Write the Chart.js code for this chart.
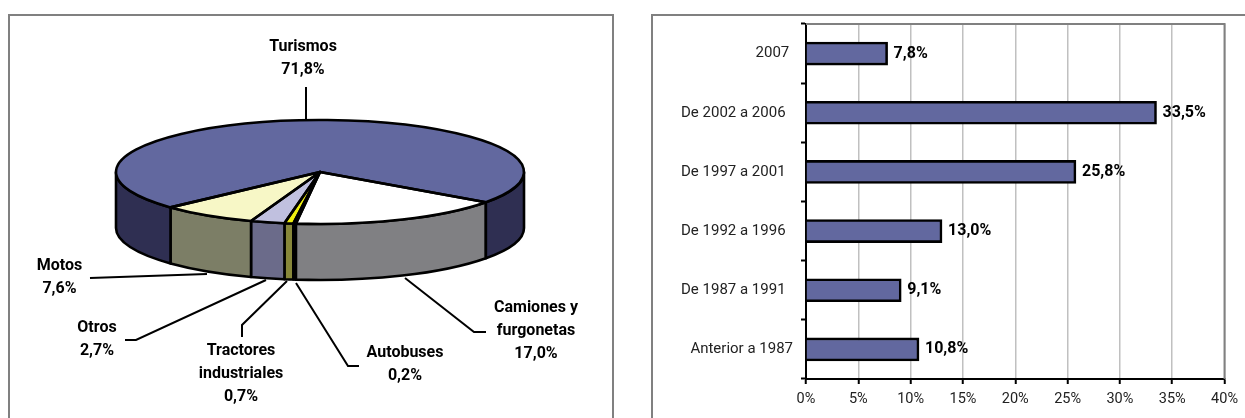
<!DOCTYPE html>
<html><head><meta charset="utf-8">
<style>
html,body{margin:0;padding:0;background:#fff;width:1245px;height:418px;overflow:hidden}
.panel{position:absolute;top:14px;height:420px;border:2px solid #808080;box-sizing:border-box;background:#fff}
canvas{position:absolute;top:0}
</style>
<script src="https://cdn.jsdelivr.net/npm/chart.js@4"></script>
</head><body>
<div class="panel" style="left:8px;width:606px"></div>
<div class="panel" style="left:651px;width:610px"></div>
<div style="position:absolute;left:0;top:0;width:640px;height:418px"><canvas id="pie"></canvas></div>
<div style="position:absolute;left:651px;top:0;width:594px;height:418px"><canvas id="bar"></canvas></div>
<script>
const pieCategories = ['Camiones y furgonetas','Autobuses','Tractores industriales','Otros','Motos','Turismos'];
const pieValues = [17.0,0.2,0.7,2.7,7.6,71.8];
const pieTopColors = ['#ffffff','#2f5f9f','#eeee10','#c0c0df','#f7f7c6','#62689f'];
const pieSideColors = ['#808083','#18304f','#87873a','#6b6b8a','#7c7e66','#2f2f52'];
const barCategories = ['2007 ','De 2002 a 2006  ','De 1997 a 2001  ','De 1992 a 1996  ','De 1987 a 1991  ','Anterior a 1987'];
const barValues = [7.8,33.5,25.8,13.0,9.1,10.8];
const barTicks = [0,5,10,15,20,25,30,35,40];

const fmt = v => v.toFixed(1).replace('.',',') + '%';
const FONT = 'Roboto, sans-serif';

// Screen ellipse of the tilted pie
const PCX = 320, PCY = 172, PRX = 204, PRY = 52, DEPTH = 56;

// label layout: [lines, centre x, first-line y]
const pieLabelLayout = [
  {lines:['Camiones y','furgonetas'], x:536, y:308},
  {lines:['Autobuses'], x:405, y:353},
  {lines:['Tractores','industriales'], x:241, y:351},
  {lines:['Otros'], x:97, y:328},
  {lines:['Motos'], x:59.5, y:266},
  {lines:['Turismos'], x:303, y:47}
];
const leaderPaths = [
  [[405,278],[474,332],[486,332]],
  [[296,283],[348,366],[359,366]],
  [[287,281],[242,325],[242,337]],
  [[266,280],[136,340],[125,340]],
  [[207,274],[90,278]],
  [[306,87],[306,120]]
];

const tiltPlugin = {
  id:'tilt',
  beforeDatasetsDraw(chart){
    const ctx = chart.ctx, arcs = chart.getDatasetMeta(0).data;
    ctx.save();
    ctx.lineWidth = 2.6; ctx.strokeStyle = '#000'; ctx.lineJoin = 'round';
    const TAU = Math.PI*2;
    arcs.forEach((arc,i)=>{
      const s = arc.startAngle, e = arc.endAngle;
      [[0,Math.PI],[TAU,TAU+Math.PI]].forEach(([lo,hi])=>{
        const a = Math.max(s,lo), b = Math.min(e,hi);
        if (b <= a) return;
        ctx.beginPath();
        ctx.ellipse(PCX,PCY,PRX,PRY,0,a,b);
        ctx.ellipse(PCX,PCY+DEPTH,PRX,PRY,0,b,a,true);
        ctx.closePath();
        ctx.fillStyle = pieSideColors[i];
        ctx.fill(); ctx.stroke();
      });
    });
    ctx.restore();
    const a0 = arcs[0];
    ctx.save();
    ctx.translate(PCX,PCY);
    ctx.scale(PRX/a0.outerRadius, PRY/a0.outerRadius);
    ctx.translate(-a0.x,-a0.y);
  },
  afterDatasetsDraw(chart){
    const ctx = chart.ctx, arcs = chart.getDatasetMeta(0).data;
    ctx.restore();
    ctx.save();
    ctx.lineWidth = 2.6; ctx.strokeStyle = '#000'; ctx.lineJoin = 'round';
    arcs.forEach(arc=>{
      ctx.beginPath();
      ctx.moveTo(PCX,PCY);
      ctx.ellipse(PCX,PCY,PRX,PRY,0,arc.startAngle,arc.endAngle);
      ctx.closePath();
      ctx.stroke();
    });
    // leader lines
    ctx.lineWidth = 2; ctx.lineJoin='miter';
    leaderPaths.forEach(p=>{
      ctx.beginPath();
      p.forEach(([x,y],i)=> i?ctx.lineTo(x,y):ctx.moveTo(x,y));
      ctx.stroke();
    });
    // labels
    ctx.fillStyle='#000'; ctx.textAlign='center'; ctx.textBaseline='middle';
    ctx.font = 'bold 16px '+FONT;
    pieLabelLayout.forEach((l,i)=>{
      const rows = l.lines.concat(fmt(pieValues[i]));
      rows.forEach((t,j)=>ctx.fillText(t,l.x,l.y+j*23));
    });
    ctx.restore();
  }
};

new Chart(document.getElementById('pie'),{
  type:'pie',
  data:{labels:pieCategories,datasets:[{data:pieValues,backgroundColor:pieTopColors,borderWidth:0}]},
  options:{
    responsive:true,maintainAspectRatio:false,animation:false,
    rotation:125.6,radius:204,
    plugins:{legend:{display:false},tooltip:{enabled:false}}
  },
  plugins:[tiltPlugin]
});

const barExtras = {
  id:'barExtras',
  afterDatasetsDraw(chart){
    const ctx=chart.ctx,{left,right,top,bottom}=chart.chartArea;
    ctx.save();
    ctx.fillStyle='#000';ctx.font='bold 16px '+FONT;ctx.textAlign='left';ctx.textBaseline='middle';
    chart.getDatasetMeta(0).data.forEach((b,i)=>ctx.fillText(fmt(barValues[i]),b.x+6,b.y));
    ctx.restore();
  },
  beforeDatasetsDraw(chart){
    const ctx=chart.ctx,{left,right,top,bottom}=chart.chartArea;
    ctx.save();
    ctx.strokeStyle='#808080';ctx.lineWidth=2;
    ctx.beginPath();ctx.moveTo(left,top);ctx.lineTo(right,top);ctx.lineTo(right,bottom);ctx.stroke();
    ctx.restore();
  }
};

new Chart(document.getElementById('bar'),{
  type:'bar',
  data:{labels:barCategories,datasets:[{data:barValues,backgroundColor:'#62689f',borderColor:'#000',borderWidth:2.6,barThickness:23}]},
  options:{
    indexAxis:'y',responsive:true,maintainAspectRatio:false,animation:false,
    layout:{padding:{top:24,right:17,bottom:0,left:0}},
    scales:{
      x:{min:0,max:40,
        afterFit(s){s.height=39;},
        afterBuildTicks(s){s.ticks=barTicks.map(v=>({value:v}));},
        grid:{color:'#c0c0c0',lineWidth:1.5,drawTicks:true,tickColor:'#000',tickWidth:2,tickLength:5},
        border:{color:'#000',width:2},
        ticks:{callback:v=>v+'%',color:'#222',font:{family:FONT,size:14.5},padding:7,maxRotation:0}},
      y:{
        afterFit(s){s.width=155;},
        grid:{drawOnChartArea:false,tickColor:'#000',tickWidth:2,tickLength:5},
        border:{color:'#000',width:2},
        ticks:{color:'#222',font:{family:FONT,size:15},padding:8}}
    },
    plugins:{legend:{display:false},tooltip:{enabled:false}}
  },
  plugins:[barExtras]
});
</script>
</body></html>
